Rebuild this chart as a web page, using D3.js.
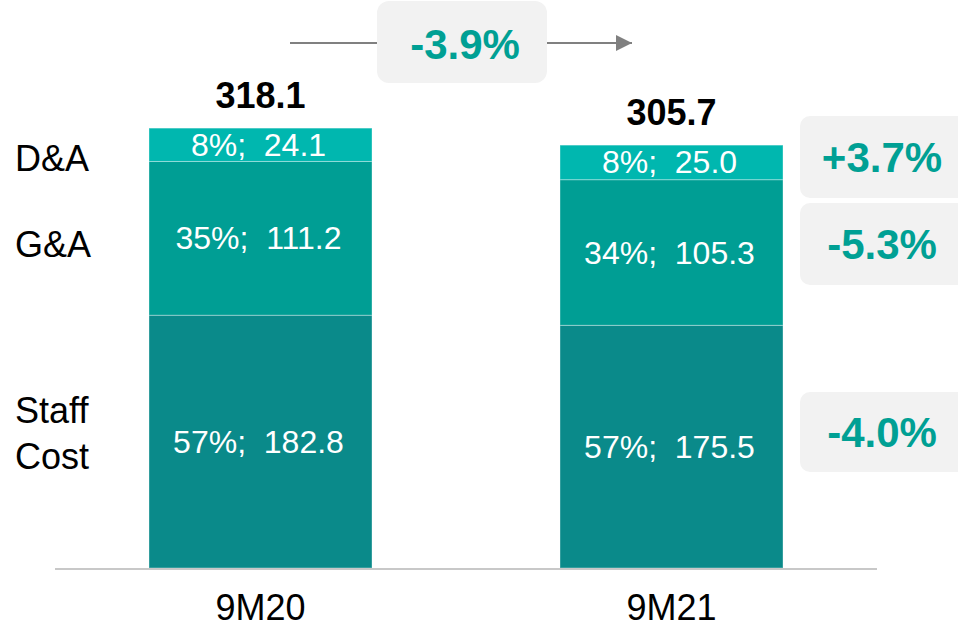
<!DOCTYPE html>
<html>
<head>
<meta charset="utf-8">
<script src="https://cdn.jsdelivr.net/npm/d3@7"></script>
<style>
  body { margin: 0; background: #fff; }
  svg { font-family: "Liberation Sans", Arial, sans-serif; }
</style>
</head>
<body>
<div id="chart"></div>
<script>
// data
const periods = ['9M20', '9M21'];
const segments = ['Staff Cost', 'G&A', 'D&A'];
const staffCost = [182.8, 175.5];
const gAndA = [111.2, 105.3];
const dAndA = [24.1, 25.0];
const shares = [[57, 35, 8], [57, 34, 8]];
const totals = [318.1, 305.7];
const totalChange = '-3.9%';
const segmentChanges = ['-4.0%', '-5.3%', '+3.7%'];

const width = 958, height = 630;
const colors = ['#0a8a8a', '#009e94', '#00b7af'];
const teal = '#00a094';

const svg = d3.select('#chart').append('svg')
    .attr('width', width)
    .attr('height', height);

const x = d3.scaleBand()
    .domain(periods)
    .range([55, 877])
    .paddingInner(0.4574)
    .paddingOuter(0.2287);

const y = d3.scaleLinear()
    .domain([0, 350])
    .range([568, 84]);

const rows = periods.map((p, i) => ({
    period: p,
    values: [staffCost[i], gAndA[i], dAndA[i]],
    shares: shares[i]
}));

const stack = [];
rows.forEach(r => {
    let base = 0;
    r.values.forEach((v, j) => {
        stack.push({ period: r.period, seg: j, y0: base, y1: base + v, value: v, share: r.shares[j] });
        base += v;
    });
});

svg.selectAll('rect.seg')
    .data(stack)
    .enter()
    .append('rect')
        .attr('class', 'seg')
        .attr('x', d => x(d.period))
        .attr('width', x.bandwidth())
        .attr('y', d => y(d.y1))
        .attr('height', d => y(d.y0) - y(d.y1))
        .attr('fill', d => colors[d.seg])
        .attr('stroke', 'rgba(255,255,255,0.35)')
        .attr('stroke-width', 1);

svg.selectAll('text.seglabel')
    .data(stack)
    .enter()
    .append('text')
        .attr('class', 'seglabel')
        .attr('x', d => x(d.period) + x.bandwidth() / 2 - 2)
        .attr('y', d => y((d.y0 + d.y1) / 2))
        .attr('text-anchor', 'middle')
        .attr('dominant-baseline', 'central')
        .style('white-space', 'pre')
        .attr('fill', '#fff')
        .style('font-size', '32px')
        .text(d => d.share + '%;  ' + d.value.toFixed(1));

// baseline
svg.append('line')
    .attr('x1', 55).attr('x2', 877)
    .attr('y1', y(0) + 1).attr('y2', y(0) + 1)
    .attr('stroke', '#c8c8c8')
    .attr('stroke-width', 2);

// category labels
svg.selectAll('text.cat')
    .data(periods)
    .enter()
    .append('text')
        .attr('class', 'cat')
        .attr('x', d => x(d) + x.bandwidth() / 2)
        .attr('y', 620)
        .attr('text-anchor', 'middle')
        .style('font-size', '36px')
        .attr('fill', '#000')
        .text(d => d);

// totals
svg.selectAll('text.total')
    .data(totals)
    .enter()
    .append('text')
        .attr('class', 'total')
        .attr('x', (d, i) => x(periods[i]) + x.bandwidth() / 2)
        .attr('y', d => y(d) - 20)
        .attr('text-anchor', 'middle')
        .style('font-size', '36px')
        .style('font-weight', 'bold')
        .attr('fill', '#000')
        .text(d => d.toFixed(1));

// left segment names
const leftLabels = [
    { lines: ['Staff', 'Cost'], cy: 433 },
    { lines: ['G&A'], cy: 244 },
    { lines: ['D&A'], cy: 158 }
];
leftLabels.forEach(l => {
    const t = svg.append('text')
        .attr('x', 15)
        .style('font-size', '36px')
        .attr('fill', '#000');
    l.lines.forEach((line, k) => {
        t.append('tspan')
            .attr('x', 15)
            .attr('y', l.cy + (k - (l.lines.length - 1) / 2) * 46)
            .attr('dominant-baseline', 'central')
            .text(line);
    });
});

// right change boxes
const boxY = [[392, 472], [203, 285], [116, 198]];
segmentChanges.forEach((c, i) => {
    svg.append('rect')
        .attr('x', 800).attr('y', boxY[i][0])
        .attr('width', 170).attr('height', boxY[i][1] - boxY[i][0])
        .attr('rx', 10)
        .attr('fill', '#f2f2f2');
    svg.append('text')
        .attr('x', 882)
        .attr('y', (boxY[i][0] + boxY[i][1]) / 2)
        .attr('text-anchor', 'middle')
        .attr('dominant-baseline', 'central')
        .style('font-size', '42px')
        .style('font-weight', 'bold')
        .attr('fill', teal)
        .text(c);
});

// top arrow with total change
svg.append('defs').append('marker')
    .attr('id', 'arrow')
    .attr('viewBox', '0 0 10 10')
    .attr('refX', 10).attr('refY', 5)
    .attr('markerWidth', 16).attr('markerHeight', 16)
    .attr('markerUnits', 'userSpaceOnUse')
    .attr('orient', 'auto')
    .append('path')
        .attr('d', 'M0,0 L10,5 L0,10 Z')
        .attr('fill', '#808080');
svg.append('line')
    .attr('x1', 290).attr('x2', 377)
    .attr('y1', 43).attr('y2', 43)
    .attr('stroke', '#808080').attr('stroke-width', 2);
svg.append('line')
    .attr('x1', 547).attr('x2', 632)
    .attr('y1', 43).attr('y2', 43)
    .attr('stroke', '#808080').attr('stroke-width', 2)
    .attr('marker-end', 'url(#arrow)');
svg.append('rect')
    .attr('x', 377).attr('y', 1)
    .attr('width', 170).attr('height', 82)
    .attr('rx', 12)
    .attr('fill', '#f2f2f2');
svg.append('text')
    .attr('x', 465).attr('y', 44)
    .attr('text-anchor', 'middle')
    .attr('dominant-baseline', 'central')
    .style('font-size', '42px')
    .style('font-weight', 'bold')
    .attr('fill', teal)
    .text(totalChange);
</script>
</body>
</html>
